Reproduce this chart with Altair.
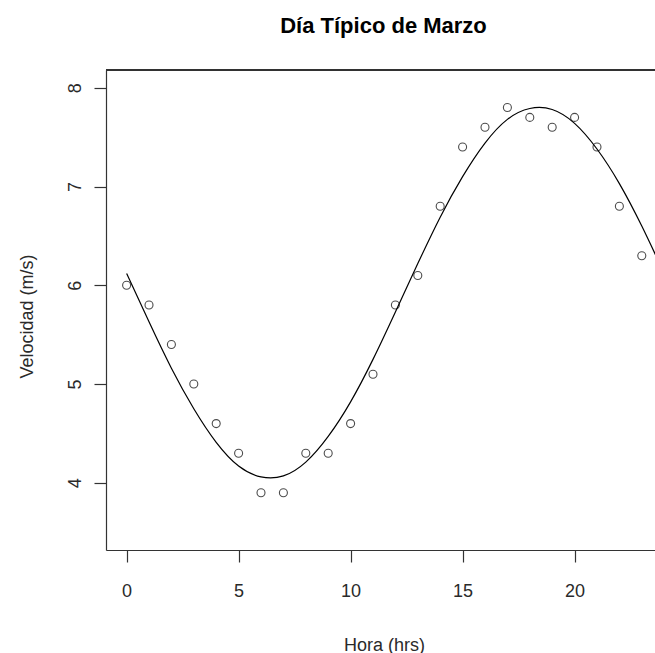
import altair as alt
import pandas as pd

# Observed mean wind speed for each hour of a typical March day
hours = list(range(24))
speed = [6.0, 5.8, 5.4, 5.0, 4.6, 4.3, 3.9, 3.9, 4.3, 4.3, 4.6, 5.1,
         5.8, 6.1, 6.8, 7.4, 7.6, 7.8, 7.7, 7.6, 7.7, 7.4, 6.8, 6.3]

# Fitted daily cycle, sampled once per hour
fit_hours = list(range(25))
fit_speed = [6.12, 5.63, 5.16, 4.75, 4.41, 4.17, 4.06, 4.07, 4.21, 4.47,
             4.82, 5.25, 5.73, 6.22, 6.69, 7.10, 7.44, 7.68, 7.79, 7.78,
             7.64, 7.38, 7.03, 6.60, 6.12]

x_ticks = [0, 5, 10, 15, 20]
y_ticks = [4, 5, 6, 7, 8]

obs = pd.DataFrame({"hora": hours, "vel": speed})
fit = pd.DataFrame({"hora": fit_hours, "vel": fit_speed})

W, H = 549, 480
FONT = "Liberation Sans"
INK = "#333333"

x_scale = alt.Scale(domain=[-0.92, 23.59], nice=False, zero=False)
y_scale = alt.Scale(domain=[3.32, 8.18], nice=False, zero=False)

x_axis = alt.Axis(
    values=x_ticks, format="d", grid=False, domainColor=INK, domainWidth=1.2,
    tickColor=INK, tickSize=12, tickWidth=1.2,
    labelFont=FONT, labelFontSize=18, labelColor="#2a2a2a",
    labelPadding=20, labelFlush=False, labelBaseline="top",
    title="Hora (hrs)", titleFont=FONT, titleFontSize=18,
    titleFontWeight="normal", titleColor="#2a2a2a",
    titleX=278, titleY=100, titleBaseline="alphabetic", titleAnchor="middle",
)
y_axis = alt.Axis(
    values=y_ticks, format="d", grid=False, domainColor=INK, domainWidth=1.2,
    tickColor=INK, tickSize=12, tickWidth=1.2,
    labelFont=FONT, labelFontSize=18, labelColor="#2a2a2a",
    labelAngle=270, labelAlign="center", labelBaseline="alphabetic",
    labelPadding=14, labelFlush=False,
    title="Velocidad (m/s)", titleFont=FONT, titleFontSize=18,
    titleFontWeight="normal", titleColor="#2a2a2a",
    titleAngle=270, titleX=-74, titleY=246, titleAlign="center",
    titleBaseline="alphabetic",
)

points = alt.Chart(obs).mark_point(
    shape="circle", filled=False, color="black", size=64, strokeWidth=1.1
).encode(
    x=alt.X("hora:Q", scale=x_scale, axis=x_axis),
    y=alt.Y("vel:Q", scale=y_scale, axis=y_axis),
)

curve = alt.Chart(fit).mark_line(
    color="black", strokeWidth=1.2, interpolate="natural", clip=True
).encode(
    x=alt.X("hora:Q", scale=x_scale),
    y=alt.Y("vel:Q", scale=y_scale),
)

# top edge of the plot frame
frame_top = alt.Chart(obs).mark_rule(color=INK, strokeWidth=1.2).encode(
    x=alt.value(0), x2=alt.value(W), y=alt.value(0)
)

chart = alt.layer(curve, points, frame_top).properties(
    width=W, height=H,
    title=alt.TitleParams(
        "Día Típico de Marzo", font=FONT, fontSize=22, fontWeight="bold",
        color="black", anchor="middle", baseline="alphabetic", offset=14, dx=3,
    ),
    autosize=alt.AutoSizeParams(type="none"),
    padding={"left": 106, "top": 70, "right": 0, "bottom": 103},
).configure_view(stroke=None).configure(background="white")

chart.save("out.html", embed_options={"renderer": "svg", "actions": False})
